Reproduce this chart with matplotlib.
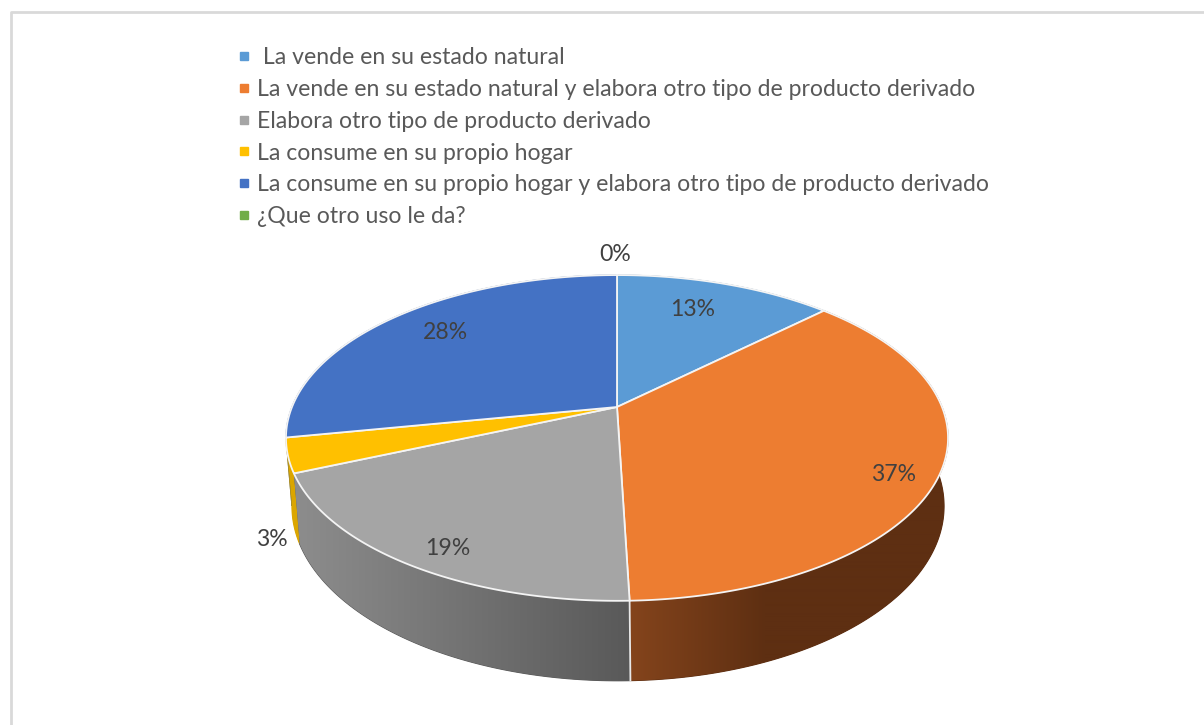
import numpy as np
import matplotlib
matplotlib.use('Agg')
import matplotlib.pyplot as plt
from matplotlib.lines import Line2D
from matplotlib.patches import Polygon

labels = [' La vende en su estado natural',
          'La vende en su estado natural y elabora otro tipo de producto derivado',
          'Elabora otro tipo de producto derivado',
          'La consume en su propio hogar',
          'La consume en su propio hogar y elabora otro tipo de producto derivado',
          '¿Que otro uso le da?']
values = [12.8, 36.7, 19.1, 3.4, 28.0, 0.0]
colors = ['#5B9BD5', '#ED7D31', '#A5A5A5', '#FFC000', '#4472C4', '#70AD47']
# цвета боковой стенки: (у левого края, у правого края)
side_left = ['#3f6f9c', '#84441c', '#8c8c8c', '#dba600', '#2f5597', '#4f7a32']
side_right = ['#3f6f9c', '#5e2f12', '#595959', '#dba600', '#2f5597', '#4f7a32']
# где идет градиент по x
side_range = [(600, 830), (630, 765), (300, 630), (285, 305), (280, 620), (610, 620)]

label_r = [0.75, 0.92, 0.86, 1.05, 0.77, 1.2]
label_dx = [-9, -20, 5, 1, 5, -2]
label_dy = [-2, 9, 10, 82, -4, 1]

plt.rcParams['font.family'] = ['Lato', 'DejaVu Sans']
text_color = '#595959'
font_px = 16.6

cx, cy = 617, 407  # вершина круга на картинке
A, B, k = 325, 157, 0.19  # перспектива


def project(theta, r=1.0):
    X = r * np.sin(theta)
    Y = r * np.cos(theta)
    d = 1 + k * Y
    return cx + A * X / d, cy - B * Y / d


def lower(x, y):
    return cx + 1 + 0.985 * (x - cx), 1.072 * y + 36.7


fig = plt.figure(figsize=(12.04, 7.25), dpi=100)
ax = fig.add_axes([0, 0, 1, 1])
ax.axis('off')

ax.plot([11, 11, 1204], [725, 12, 12], color='#d9d9d9', lw=2, zorder=0)

edges = np.radians(np.cumsum([0] + values) * 3.6)

# боковая стенка, сзади наперед
order = sorted(range(len(values)), key=lambda q: project((edges[q] + edges[q + 1]) / 2)[1])
for i in order:
    if values[i] == 0:
        continue
    th = np.linspace(edges[i], edges[i + 1], 200)
    x, y = project(th)
    xb, yb = lower(x, y)
    c0 = np.array(matplotlib.colors.to_rgb(side_left[i]))
    c1 = np.array(matplotlib.colors.to_rgb(side_right[i]))
    xr = side_range[i]
    # за пределами диапазона цвет крайний
    x_grid = np.arange(270, 960)
    tt = np.clip((x_grid - xr[0]) / (xr[1] - xr[0]), 0, 1)[:, None]
    grad = (c0 + (c1 - c0) * tt)[None, :, :]
    poly = Polygon(np.c_[np.r_[x, xb[::-1]], np.r_[y, yb[::-1]]], closed=True,
                   facecolor=side_right[i], edgecolor=side_right[i], lw=0.8, zorder=1)
    ax.add_patch(poly)
    im = ax.imshow(grad, extent=(270, 960, 700, 400), aspect='auto', zorder=1.1,
                   interpolation='bilinear')
    im.set_clip_path(poly)

ax.set_xlim(0, 1204)
ax.set_ylim(725, 0)

# белая линия между серой и оранжевой стенкой
xe, ye = project(edges[2])
xf, yf = lower(xe, ye)
ax.plot([xe, xf], [ye, yf], color='#e8e8e8', lw=1.3, zorder=2)

# верхняя грань
for i in range(len(values)):
    if values[i] == 0:
        continue
    th = np.linspace(edges[i], edges[i + 1], 200)
    x, y = project(th)
    ax.fill(np.r_[cx, x], np.r_[cy, y], facecolor=colors[i], edgecolor='#f4f4f4', lw=1.3,
            joinstyle='round', zorder=3)

# подписи долей
for i in range(len(values)):
    mid = (edges[i] + edges[i + 1]) / 2
    x, y = project(mid, label_r[i])
    ax.text(x + label_dx[i], y + label_dy[i], f'{values[i]:.0f}%', ha='center', va='center',
            color='#404040', fontsize=font_px, zorder=5)

handles = [Line2D([], [], linestyle='none', marker='s', markersize=6, color=c) for c in colors]
ax.legend(handles, labels, loc='upper left', bbox_to_anchor=(232 / 1204, 1 - 47 / 725),
          frameon=False, fontsize=font_px, labelcolor=text_color, handletextpad=0.1,
          labelspacing=0.47, borderaxespad=0, borderpad=0, handlelength=1.0)

fig.savefig('out.png', dpi=100)
